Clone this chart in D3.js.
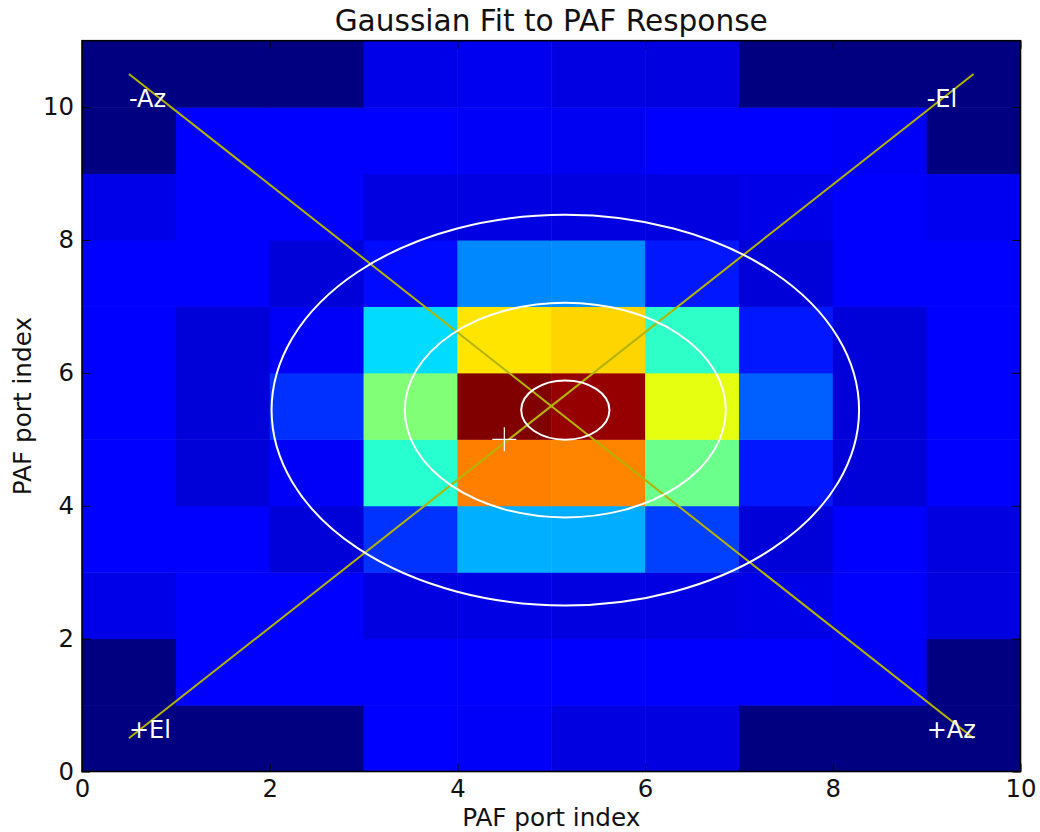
<!DOCTYPE html>
<html>
<head>
<meta charset="utf-8">
<script src="https://cdn.jsdelivr.net/npm/d3@7"></script>
<style>
  html, body { margin: 0; padding: 0; background: #fff; }
  svg { display: block; font-family: "DejaVu Sans", sans-serif; }
</style>
</head>
<body>
<svg id="chart" width="1040" height="832"></svg>
<script>
// Port grid extents
const xPorts = 10;
const yPorts = 11;

// Normalised PAF port response, one row per y port (row 0 = y in [0,1]), 10 x ports each
const row0  = [0.000, 0.000, 0.000, 0.118, 0.104, 0.083, 0.083, 0.000, 0.000, 0.000];
const row1  = [0.000, 0.118, 0.118, 0.118, 0.118, 0.118, 0.118, 0.118, 0.105, 0.000];
const row2  = [0.090, 0.118, 0.118, 0.083, 0.088, 0.083, 0.086, 0.090, 0.118, 0.083];
const row3  = [0.118, 0.118, 0.076, 0.175, 0.297, 0.295, 0.188, 0.076, 0.118, 0.083];
const row4  = [0.118, 0.076, 0.106, 0.397, 0.775, 0.770, 0.480, 0.148, 0.076, 0.118];
const row5  = [0.118, 0.076, 0.172, 0.505, 1.000, 0.980, 0.630, 0.219, 0.076, 0.118];
const row6  = [0.118, 0.076, 0.104, 0.340, 0.667, 0.684, 0.406, 0.148, 0.076, 0.118];
const row7  = [0.118, 0.118, 0.076, 0.135, 0.258, 0.262, 0.148, 0.076, 0.118, 0.118];
const row8  = [0.090, 0.118, 0.118, 0.083, 0.085, 0.083, 0.083, 0.090, 0.118, 0.097];
const row9  = [0.000, 0.118, 0.118, 0.115, 0.104, 0.100, 0.118, 0.118, 0.105, 0.000];
const row10 = [0.000, 0.000, 0.000, 0.090, 0.097, 0.085, 0.083, 0.000, 0.000, 0.000];
const responseRows = [row0, row1, row2, row3, row4, row5, row6, row7, row8, row9, row10];

// Gaussian fit contours: centre and semi-axes (port units)
const fitCenter = [5.15, 5.44];
const contourRx = [0.47, 1.71, 3.13];
const contourRy = [0.445, 1.615, 2.94];

// Pointing marker
const pointing = [4.5, 5.0];

// Scan direction guide lines and their end labels
const guideLines = [[[0.5, 10.5], [9.5, 0.5]], [[0.5, 0.5], [9.5, 10.5]]];
const dirLabels = ["-Az", "-El", "+El", "+Az"];
const dirLabelX = [0.5, 9.0, 0.5, 9.0];
const dirLabelY = [10.0, 10.0, 0.5, 0.5];

// Tick values
const xTicks = [0, 2, 4, 6, 8, 10];
const yTicks = [0, 2, 4, 6, 8, 10];

const titleText = "Gaussian Fit to PAF Response";
const xLabel = "PAF port index";
const yLabel = "PAF port index";

// ---------------------------------------------------------------
const svg = d3.select("#chart");
const margin = { left: 82, right: 19.5, top: 40.7, bottom: 60.5 };
const W = 1040, H = 832;
const pw = W - margin.left - margin.right;
const ph = H - margin.top - margin.bottom;

const x = d3.scaleLinear().domain([0, xPorts]).range([0, pw]);
const y = d3.scaleLinear().domain([0, yPorts]).range([ph, 0]);

// Jet colour map built from piecewise-linear channel scales
const jetR = d3.scaleLinear().domain([0, 0.35, 0.66, 0.89, 1]).range([0, 0, 1, 1, 0.5]).clamp(true);
const jetG = d3.scaleLinear().domain([0, 0.125, 0.375, 0.64, 0.91, 1]).range([0, 0, 1, 1, 0, 0]).clamp(true);
const jetB = d3.scaleLinear().domain([0, 0.11, 0.34, 0.65, 1]).range([0.5, 1, 1, 0, 0]).clamp(true);
const jet = v => d3.rgb(255 * jetR(v), 255 * jetG(v), 255 * jetB(v)).toString();

const g = svg.append("g").attr("transform", `translate(${margin.left},${margin.top})`);

g.append("defs").append("clipPath").attr("id", "plotClip")
  .append("rect").attr("width", pw).attr("height", ph);

const cells = [];
responseRows.forEach((row, j) => row.forEach((v, i) => cells.push({ i, j, v })));

const plot = g.append("g").attr("clip-path", "url(#plotClip)");

plot.selectAll("rect.cell").data(cells).join("rect")
  .attr("class", "cell")
  .attr("x", d => x(d.i))
  .attr("y", d => y(d.j + 1))
  .attr("width", d => x(d.i + 1) - x(d.i) + 0.5)
  .attr("height", d => y(d.j) - y(d.j + 1) + 0.5)
  .attr("fill", d => jet(d.v));

// Guide lines
const line = d3.line().x(d => x(d[0])).y(d => y(d[1]));
plot.selectAll("path.guide").data(guideLines).join("path")
  .attr("class", "guide")
  .attr("d", line)
  .attr("fill", "none")
  .attr("stroke", "#b4b400")
  .attr("stroke-width", 2);

// Gaussian contours
plot.selectAll("ellipse.contour").data(contourRx).join("ellipse")
  .attr("class", "contour")
  .attr("cx", x(fitCenter[0]))
  .attr("cy", y(fitCenter[1]))
  .attr("rx", (d, k) => x(contourRx[k]) - x(0))
  .attr("ry", (d, k) => y(0) - y(contourRy[k]))
  .attr("fill", "none")
  .attr("stroke", "#fff")
  .attr("stroke-width", 2);

// Pointing "+" marker
const px = x(pointing[0]), py = y(pointing[1]), half = 12;
plot.append("path")
  .attr("d", `M${px - half},${py}H${px + half}M${px},${py - half}V${py + half}`)
  .attr("stroke", "#fff")
  .attr("stroke-width", 1.2)
  .attr("fill", "none");

// Direction labels
plot.selectAll("text.dir").data(dirLabels).join("text")
  .attr("class", "dir")
  .attr("x", (d, k) => x(dirLabelX[k]))
  .attr("y", (d, k) => y(dirLabelY[k]))
  .attr("fill", "#fff")
  .attr("font-size", 24)
  .text(d => d);

// Axes with inward ticks on all four sides
const tickLen = 8;
const axB = g.append("g").attr("transform", `translate(0,${ph})`)
  .call(d3.axisBottom(x).tickValues(xTicks).tickFormat(d3.format("d")).tickSize(-tickLen).tickPadding(8));
const axL = g.append("g")
  .call(d3.axisLeft(y).tickValues(yTicks).tickFormat(d3.format("d")).tickSize(-tickLen).tickPadding(8));
const axT = g.append("g")
  .call(d3.axisTop(x).tickValues(xTicks).tickFormat("").tickSize(-tickLen));
const axR = g.append("g").attr("transform", `translate(${pw},0)`)
  .call(d3.axisRight(y).tickValues(yTicks).tickFormat("").tickSize(-tickLen));
[axB, axL, axT, axR].forEach(a => {
  a.select(".domain").remove();
  a.selectAll(".tick line").attr("stroke", "#000").attr("stroke-width", 1);
  a.selectAll(".tick text").attr("font-family", "DejaVu Sans").attr("font-size", 24.4).attr("fill", "#111");
});

// Frame
g.append("rect")
  .attr("width", pw).attr("height", ph)
  .attr("fill", "none")
  .attr("stroke", "#000")
  .attr("stroke-width", 1.6);

// Title and axis labels
svg.append("text")
  .attr("x", margin.left + pw / 2).attr("y", 31)
  .attr("text-anchor", "middle")
  .attr("font-size", 29.6)
  .attr("fill", "#111")
  .text(titleText);

svg.append("text")
  .attr("x", margin.left + pw / 2).attr("y", 826)
  .attr("text-anchor", "middle")
  .attr("font-size", 24.7)
  .attr("fill", "#111")
  .text(xLabel);

svg.append("text")
  .attr("transform", `translate(31,${margin.top + ph / 2}) rotate(-90)`)
  .attr("text-anchor", "middle")
  .attr("font-size", 24.7)
  .attr("fill", "#111")
  .text(yLabel);
</script>
</body>
</html>
